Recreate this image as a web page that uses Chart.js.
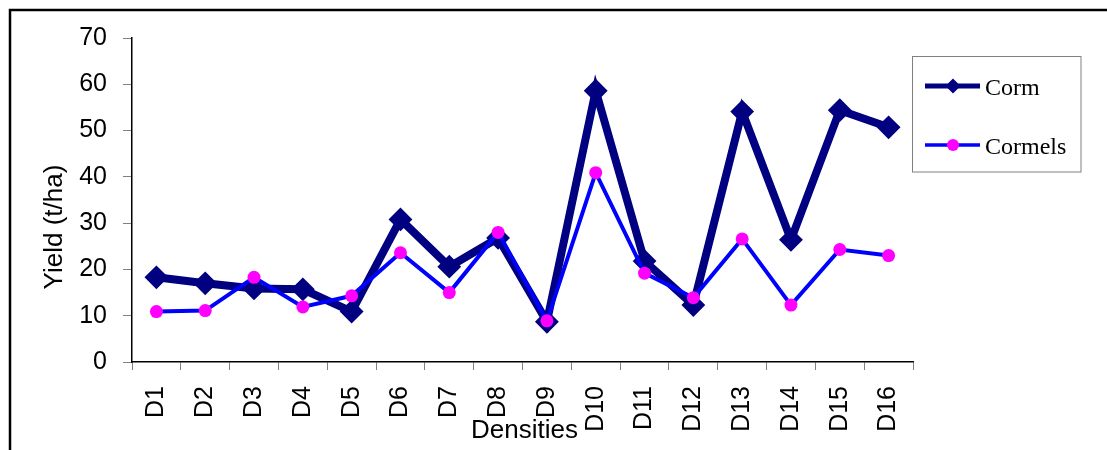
<!DOCTYPE html>
<html>
<head>
<meta charset="utf-8">
<script src="https://cdn.jsdelivr.net/npm/chart.js@4/dist/chart.umd.min.js"></script>
<style>
body { margin: 0; background: #fff; }
canvas { display: block; }
</style>
</head>
<body>
<canvas id="myChart" width="1107" height="450"></canvas>
<script>
// densities on the x axis
var densities = ['D1','D2','D3','D4','D5','D6','D7','D8','D9','D10','D11','D12','D13','D14','D15','D16'];
// yield in t/ha
var corm = [18.3, 17.0, 15.9, 15.7, 10.9, 30.8, 20.6, 26.8, 8.7, 58.6, 21.8, 12.3, 54.1, 26.4, 54.4, 50.7];
var cormels = [10.9, 11.1, 18.3, 11.9, 14.3, 23.6, 15.0, 28.0, 8.9, 40.9, 19.2, 13.9, 26.6, 12.3, 24.3, 23.0];
var yMin = 0, yMax = 70, yStep = 10;
var xTitle = 'Densities';
var yTitle = 'Yield (t/ha)';

var sans = 'Liberation Sans, Arial, sans-serif';
var serif = 'Liberation Serif, Times New Roman, serif';

// outer frame, axis titles and the boxed legend
var extras = {
	id: 'extras',
	beforeDraw: function(chart){
		var ctx = chart.ctx;
		ctx.save();
		ctx.fillStyle = '#fff';
		ctx.fillRect(0, 0, chart.width, chart.height);
		ctx.strokeStyle = '#000';
		ctx.lineWidth = 2.5;
		ctx.beginPath();
		ctx.moveTo(10, chart.height + 5);
		ctx.lineTo(10, 10);
		ctx.lineTo(chart.width + 5, 10);
		ctx.stroke();
		ctx.restore();
	},
	afterDraw: function(chart){
		var ctx = chart.ctx;
		var area = chart.chartArea;
		ctx.save();
		ctx.fillStyle = '#000';
		ctx.font = '26px ' + sans;
		ctx.textAlign = 'center';
		ctx.textBaseline = 'alphabetic';
		ctx.fillText(xTitle, (area.left + area.right) / 2 + 2, 438);
		ctx.translate(62, 227);
		ctx.rotate(-Math.PI / 2);
		ctx.fillText(yTitle, 0, 0);
		ctx.restore();

		// legend
		ctx.save();
		ctx.strokeStyle = '#808080';
		ctx.lineWidth = 1;
		ctx.strokeRect(912.5, 56.5, 168.5, 115.5);
		var rows = [86, 145];
		var bases = [95, 154];
		chart.data.datasets.forEach(function(ds, i){
			var y = rows[i];
			ctx.strokeStyle = ds.borderColor;
			ctx.lineWidth = i === 0 ? 5 : 3.5;
			ctx.beginPath();
			ctx.moveTo(925, y);
			ctx.lineTo(980, y);
			ctx.stroke();
			ctx.fillStyle = ds.pointBackgroundColor;
			ctx.beginPath();
			if (ds.pointStyle === 'rectRot') {
				ctx.moveTo(953 - 7.5, y);
				ctx.lineTo(953, y - 7.5);
				ctx.lineTo(953 + 7.5, y);
				ctx.lineTo(953, y + 7.5);
				ctx.closePath();
			} else {
				ctx.arc(953, y, 6, 0, Math.PI * 2);
			}
			ctx.fill();
			ctx.fillStyle = '#000';
			ctx.font = '24px ' + serif;
			ctx.textAlign = 'left';
			ctx.textBaseline = 'alphabetic';
			ctx.fillText(ds.label, 985, bases[i]);
		});
		ctx.restore();
	}
};

new Chart(document.getElementById('myChart'), {
	type: 'line',
	data: {
		labels: densities,
		datasets: [{
			label: 'Corm',
			data: corm,
			borderColor: '#000080',
			backgroundColor: '#000080',
			borderWidth: 8,
			pointStyle: 'rectRot',
			pointRadius: 10.5,
			pointBorderWidth: 2,
			pointBackgroundColor: '#000080',
			pointBorderColor: '#000080',
			tension: 0,
			order: 2
		},{
			label: 'Cormels',
			data: cormels,
			borderColor: '#0000ff',
			backgroundColor: '#ff00ff',
			borderWidth: 4,
			pointStyle: 'circle',
			pointRadius: 6.5,
			pointBorderWidth: 0,
			pointBackgroundColor: '#ff00ff',
			pointBorderColor: '#ff00ff',
			tension: 0,
			order: 1
		}]
	},
	options: {
		responsive: false,
		animation: false,
		layout: { padding: { left: 0, top: 38, right: 194, bottom: 0 } },
		plugins: {
			legend: { display: false },
			tooltip: { enabled: false }
		},
		scales: {
			x: {
				offset: true,
				grid: { offset: true, drawOnChartArea: false, drawTicks: true, tickLength: 8, color: '#808080' },
				border: { display: true, color: '#000', width: 1.5 },
				ticks: {
					autoSkip: false, minRotation: 90, maxRotation: 90, padding: 16,
					color: '#000', font: { family: sans, size: 25 }
				},
				afterFit: function(scale){ scale.height = 88; }
			},
			y: {
				min: yMin,
				max: yMax,
				grid: { drawOnChartArea: false, drawTicks: true, tickLength: 9, color: '#808080' },
				border: { display: true, color: '#000', width: 1.5 },
				ticks: {
					stepSize: yStep, padding: 16,
					color: '#000', font: { family: sans, size: 25 }
				},
				afterFit: function(scale){ scale.width = 132; }
			}
		}
	},
	plugins: [extras]
});
</script>
</body>
</html>
